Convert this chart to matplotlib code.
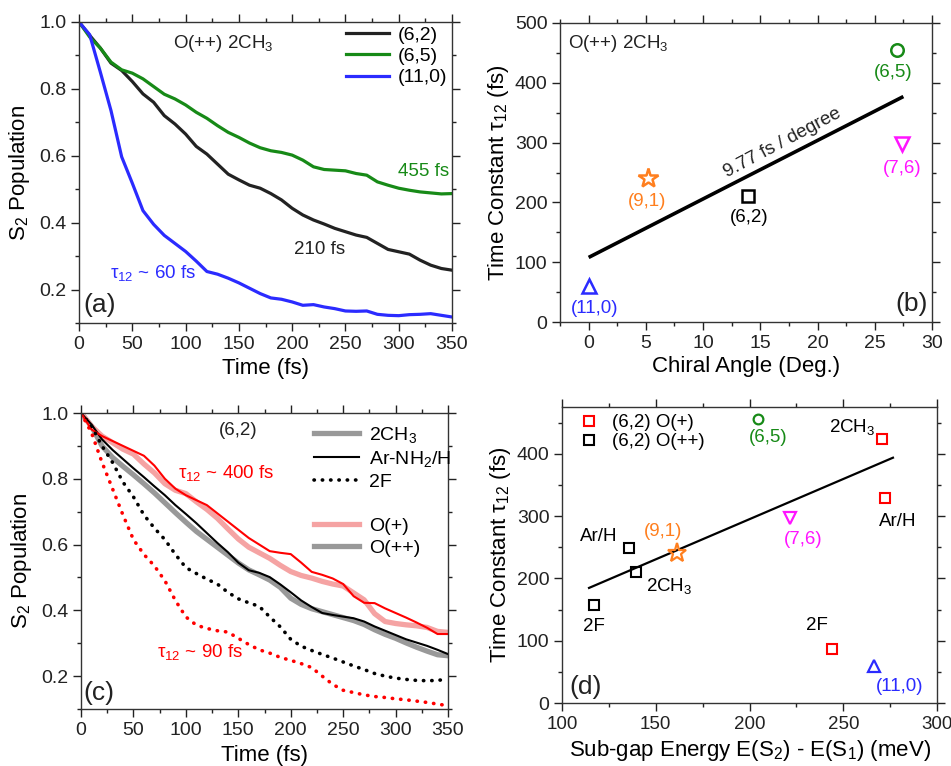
import matplotlib
matplotlib.use('Agg')
import matplotlib.pyplot as plt
from matplotlib.ticker import MultipleLocator
from matplotlib.lines import Line2D
import numpy as np

plt.rcParams['font.family'] = ['Liberation Sans', 'DejaVu Sans']
plt.rcParams['mathtext.fontset'] = 'custom'
plt.rcParams['mathtext.rm'] = 'Liberation Sans'
plt.rcParams['mathtext.it'] = 'Liberation Sans:italic'
plt.rcParams['mathtext.default'] = 'regular'

# ---- panel (a): S2 population, O(++) 2CH3 ----
time_a = np.arange(0, 351, 10)
pop_62 = [1.0, 0.96, 0.922, 0.877, 0.855, 0.822, 0.785, 0.76, 0.72, 0.695,
          0.665, 0.628, 0.605, 0.575, 0.545, 0.528, 0.512, 0.503, 0.487, 0.468,
          0.443, 0.423, 0.408, 0.396, 0.383, 0.373, 0.363, 0.356, 0.338, 0.320,
          0.313, 0.306, 0.288, 0.273, 0.263, 0.258]
pop_65 = [1.0, 0.955, 0.922, 0.88, 0.857, 0.847, 0.83, 0.807, 0.784, 0.77,
          0.752, 0.73, 0.712, 0.69, 0.67, 0.655, 0.638, 0.624, 0.615, 0.61,
          0.602, 0.587, 0.567, 0.559, 0.557, 0.555, 0.547, 0.542, 0.522, 0.512,
          0.503, 0.497, 0.492, 0.489, 0.486, 0.487]
pop_110 = [1.0, 0.962, 0.85, 0.735, 0.597, 0.518, 0.436, 0.395, 0.362, 0.338,
           0.314, 0.285, 0.254, 0.246, 0.234, 0.22, 0.204, 0.188, 0.175, 0.171,
           0.163, 0.153, 0.155, 0.148, 0.143, 0.136, 0.135, 0.136, 0.126, 0.123,
           0.122, 0.125, 0.126, 0.128, 0.123, 0.118]

# ---- panel (b): tau12 vs chiral angle ----
tube_names = ['(11,0)', '(9,1)', '(6,2)', '(6,5)', '(7,6)']
chiral_angle = [0.0, 5.2, 13.9, 26.9, 27.4]
tau_b = [60, 240, 210, 455, 297]
fit_b_x = [0.0, 27.5]
fit_b_y = [108, 377]

# ---- panel (c): (6,2) with different functional groups ----
time_c = np.arange(0, 351, 10)
pp_2ch3 = [1.0, 0.96, 0.9, 0.865, 0.838, 0.812, 0.785, 0.757, 0.727, 0.697,
           0.668, 0.64, 0.616, 0.592, 0.568, 0.544, 0.523, 0.508, 0.492, 0.47,
           0.437, 0.418, 0.405, 0.396, 0.387, 0.378, 0.369, 0.357, 0.341, 0.327,
           0.315, 0.301, 0.288, 0.276, 0.265, 0.262]
pp_arh = [1.0, 0.965, 0.92, 0.888, 0.86, 0.832, 0.805, 0.777, 0.75, 0.72,
          0.693, 0.665, 0.635, 0.605, 0.577, 0.545, 0.522, 0.514, 0.501, 0.479,
          0.455, 0.43, 0.41, 0.392, 0.386, 0.381, 0.376, 0.366, 0.351, 0.338,
          0.325, 0.312, 0.302, 0.292, 0.28, 0.267]
pp_2f = [1.0, 0.96, 0.9, 0.85, 0.79, 0.745, 0.69, 0.65, 0.615, 0.57,
         0.53, 0.512, 0.495, 0.48, 0.455, 0.435, 0.423, 0.412, 0.38, 0.35,
         0.312, 0.291, 0.278, 0.266, 0.255, 0.243, 0.231, 0.22, 0.208, 0.2,
         0.194, 0.19, 0.187, 0.186, 0.187, 0.191]
p_2ch3 = [1.0, 0.96, 0.93, 0.91, 0.89, 0.875, 0.845, 0.818, 0.785, 0.765,
          0.755, 0.73, 0.707, 0.68, 0.648, 0.617, 0.592, 0.575, 0.558, 0.537,
          0.518, 0.506, 0.498, 0.488, 0.48, 0.474, 0.453, 0.432, 0.39, 0.366,
          0.36, 0.356, 0.353, 0.348, 0.336, 0.333]
p_arh = [1.0, 0.95, 0.93, 0.915, 0.90, 0.885, 0.87, 0.84, 0.80, 0.77,
         0.75, 0.735, 0.72, 0.695, 0.67, 0.645, 0.62, 0.60, 0.58, 0.575,
         0.571, 0.545, 0.517, 0.508, 0.497, 0.48, 0.443, 0.423, 0.422, 0.406,
         0.392, 0.378, 0.363, 0.347, 0.328, 0.328]
p_2f = [1.0, 0.94, 0.85, 0.77, 0.69, 0.615, 0.57, 0.535, 0.49, 0.43,
        0.38, 0.355, 0.345, 0.338, 0.334, 0.315, 0.296, 0.28, 0.27, 0.257,
        0.248, 0.238, 0.226, 0.20, 0.175, 0.157, 0.15, 0.143, 0.138, 0.135,
        0.131, 0.128, 0.124, 0.12, 0.115, 0.11]

# ---- panel (d): tau12 vs sub-gap energy ----
gap_tubes = [204.5, 161.4, 221.6, 266.4]
tau_tubes = [456, 241, 297, 60]
gap_p = [270.7, 272.3, 244.0]          # (6,2) O(+): 2CH3, Ar/H, 2F
tau_p = [424, 329, 87]
gap_pp = [139.5, 135.7, 117.0]         # (6,2) O(++): 2CH3, Ar/H, 2F
tau_pp = [210, 249, 157]
fit_d_x = [114.4, 276.5]
fit_d_y = [184.7, 393.6]

GREEN = '#178a17'
BLUE = '#2b2bff'
ORANGE = '#ff7f1e'
MAGENTA = '#ff14ff'
RED = '#ff0000'
PINK = '#f5a3a3'
GRAY = '#999999'

TICK_FS = 14
LABEL_FS = 16
NOTE_FS = 13.5


def style_axes(ax, xmaj, xmin, ymaj, ymin):
    ax.xaxis.set_major_locator(MultipleLocator(xmaj))
    ax.xaxis.set_minor_locator(MultipleLocator(xmin))
    ax.yaxis.set_major_locator(MultipleLocator(ymaj))
    ax.yaxis.set_minor_locator(MultipleLocator(ymin))
    ax.tick_params(which='both', direction='out', top=True, right=True,
                   labelsize=TICK_FS, colors='#222222', width=1)
    ax.tick_params(which='major', length=6, pad=3)
    ax.tick_params(which='minor', length=3)
    for sp in ax.spines.values():
        sp.set_color('#333333')
        sp.set_linewidth(1)


fig = plt.figure(figsize=(9.51, 7.66), dpi=100)

# (a)
ax = fig.add_axes([0.0831, 0.5783, 0.3922, 0.393])
ax.plot(time_a, pop_62, color='#222222', lw=2.3, label='(6,2)')
ax.plot(time_a, pop_65, color=GREEN, lw=2.3, label='(6,5)')
ax.plot(time_a, pop_110, color=BLUE, lw=2.3, label='(11,0)')
ax.set_xlim(0, 350)
ax.set_ylim(0.1, 1.0)
style_axes(ax, 50, 25, 0.2, 0.1)
ax.set_yticks([0.2, 0.4, 0.6, 0.8, 1.0])
ax.set_xlabel('Time (fs)', fontsize=LABEL_FS, labelpad=4)
ax.set_ylabel('S$_2$ Population', fontsize=LABEL_FS, labelpad=5)
ax.legend(loc='upper right', frameon=False, fontsize=14, handlelength=2.2,
          labelspacing=0.18, borderaxespad=0.3, handletextpad=0.5,
          bbox_to_anchor=(1.025, 1.03))
ax.text(88, 0.937, 'O(++) 2CH$_3$', fontsize=NOTE_FS, va='center', color='#222222')
ax.text(347, 0.552, '455 fs', fontsize=NOTE_FS, color=GREEN, ha='right', va='center')
ax.text(226, 0.319, '210 fs', fontsize=NOTE_FS, color='#222222', ha='center', va='center')
ax.text(29, 0.25, 'τ$_{12}$ ~ 60 fs', fontsize=NOTE_FS, color=BLUE, va='center')
ax.text(4, 0.155, '(a)', fontsize=19, va='center', color='#222222')

# (b)
ax = fig.add_axes([0.5889, 0.5796, 0.3911, 0.3904])
ax.plot(fit_b_x, fit_b_y, color='black', lw=2.6, solid_capstyle='butt')
markers_b = ['^', '*', 's', 'o', 'v']
colors_b = [BLUE, ORANGE, 'black', GREEN, MAGENTA]
sizes_b = [10, 15, 8.5, 9, 10]
for xx, yy, mk, cc, ms in zip(chiral_angle, tau_b, markers_b, colors_b, sizes_b):
    ax.plot(xx, yy, marker=mk, ms=ms, mfc='none', mec=cc, mew=1.8, ls='none')
label_pos_b = [(0.5, 23), (5.1, 201), (14.0, 174), (26.6, 418), (27.4, 256)]
for name, (lx, ly), cc in zip(tube_names, label_pos_b, colors_b):
    ax.text(lx, ly, name, fontsize=NOTE_FS, color=cc, ha='center', va='center')
ax.text(16.9, 300, '9.77 fs / degree', fontsize=NOTE_FS, rotation=28,
        ha='center', va='center', rotation_mode='anchor', color='#222222')
ax.text(-1.8, 465, 'O(++) 2CH$_3$', fontsize=NOTE_FS, va='center', color='#222222')
ax.text(29.6, 30, '(b)', fontsize=19, ha='right', va='center', color='#222222')
ax.set_xlim(-2.5, 30)
ax.set_ylim(0, 500)
style_axes(ax, 5, 2.5, 100, 50)
ax.set_xlabel('Chiral Angle (Deg.)', fontsize=LABEL_FS, labelpad=3)
ax.set_ylabel('Time Constant τ$_{12}$ (fs)', fontsize=LABEL_FS, labelpad=3)

# (c)
ax = fig.add_axes([0.0852, 0.0744, 0.3859, 0.3864])
dots = (0, (0.1, 2.2))
ax.plot(time_c, pp_2ch3, color=GRAY, lw=3.8)
ax.plot(time_c, p_2ch3, color=PINK, lw=3.8)
ax.plot(time_c, pp_arh, color='black', lw=1.5)
ax.plot(time_c, p_arh, color=RED, lw=1.5)
ax.plot(time_c, pp_2f, color='black', lw=2.6, ls=dots, dash_capstyle='round')
ax.plot(time_c, p_2f, color=RED, lw=2.6, ls=dots, dash_capstyle='round')
ax.set_xlim(0, 350)
ax.set_ylim(0.1, 1.0)
style_axes(ax, 50, 25, 0.2, 0.1)
ax.set_yticks([0.2, 0.4, 0.6, 0.8, 1.0])
ax.set_xlabel('Time (fs)', fontsize=LABEL_FS, labelpad=5)
ax.set_ylabel('S$_2$ Population', fontsize=LABEL_FS, labelpad=5)
handles_c = [Line2D([], [], color=GRAY, lw=3.8),
             Line2D([], [], color='black', lw=1.5),
             Line2D([], [], color='black', lw=2.6, ls=dots, dash_capstyle='round'),
             Line2D([], [], color='none'),
             Line2D([], [], color=PINK, lw=3.8),
             Line2D([], [], color=GRAY, lw=3.8)]
labels_c = ['2CH$_3$', 'Ar-NH$_2$/H', '2F', '', 'O(+)', 'O(++)']
ax.legend(handles_c, labels_c, loc='upper right', frameon=False, fontsize=14,
          handlelength=2.3, labelspacing=0.22, borderaxespad=0.2, handletextpad=0.5,
          bbox_to_anchor=(1.04, 1.0))
ax.text(150, 0.948, '(6,2)', fontsize=NOTE_FS, ha='center', va='center', color='#222222')
ax.text(92.5, 0.818, 'τ$_{12}$ ~ 400 fs', fontsize=NOTE_FS, color=RED, va='center')
ax.text(72.5, 0.273, 'τ$_{12}$ ~ 90 fs', fontsize=NOTE_FS, color=RED, va='center')
ax.text(2, 0.15, '(c)', fontsize=19, va='center', color='#222222')

# (d)
ax = fig.add_axes([0.591, 0.0822, 0.3943, 0.3865])
ax.plot(fit_d_x, fit_d_y, color='black', lw=1.6)
markers_d = ['o', '*', 'v', '^']
colors_d = [GREEN, ORANGE, MAGENTA, BLUE]
sizes_d = [7, 14, 9, 9]
for xx, yy, mk, cc, ms in zip(gap_tubes, tau_tubes, markers_d, colors_d, sizes_d):
    ax.plot(xx, yy, marker=mk, ms=ms, mfc='none', mec=cc, mew=1.6, ls='none')
ax.plot(gap_p, tau_p, marker='s', ms=6.5, mfc='none', mec=RED, mew=1.5, ls='none',
        label='(6,2) O(+)')
ax.plot(gap_pp, tau_pp, marker='s', ms=6.5, mfc='none', mec='black', mew=1.5, ls='none',
        label='(6,2) O(++)')
ax.legend(loc='upper left', frameon=False, fontsize=13.5, handlelength=1.0,
          labelspacing=0.1, borderaxespad=0.15, handletextpad=0.7,
          bbox_to_anchor=(0.02, 1.01))
notes_d = [('(6,5)', 210, 426, GREEN), ('2CH$_3$', 254.7, 443, 'black'),
           ('Ar/H', 279, 292, 'black'), ('(7,6)', 228.5, 263, MAGENTA),
           ('(9,1)', 154, 275, ORANGE), ('Ar/H', 119.7, 267, 'black'),
           ('2CH$_3$', 157, 187, 'black'), ('2F', 117, 122, 'black'),
           ('2F', 236, 124, 'black'), ('(11,0)', 280, 27, BLUE)]
for txt, lx, ly, cc in notes_d:
    ax.text(lx, ly, txt, fontsize=NOTE_FS, color=cc, ha='center', va='center')
ax.text(104, 25, '(d)', fontsize=19, va='center', color='#222222')
ax.set_xlim(100, 300)
ax.set_ylim(0, 475)
style_axes(ax, 50, 25, 100, 50)
ax.tick_params(axis='x', labelsize=13.5)
ax.set_xlabel('Sub-gap Energy E(S$_2$) - E(S$_1$) (meV)', fontsize=LABEL_FS, labelpad=4)
ax.set_ylabel('Time Constant τ$_{12}$ (fs)', fontsize=LABEL_FS, labelpad=3)

fig.savefig('out.png', dpi=100)
